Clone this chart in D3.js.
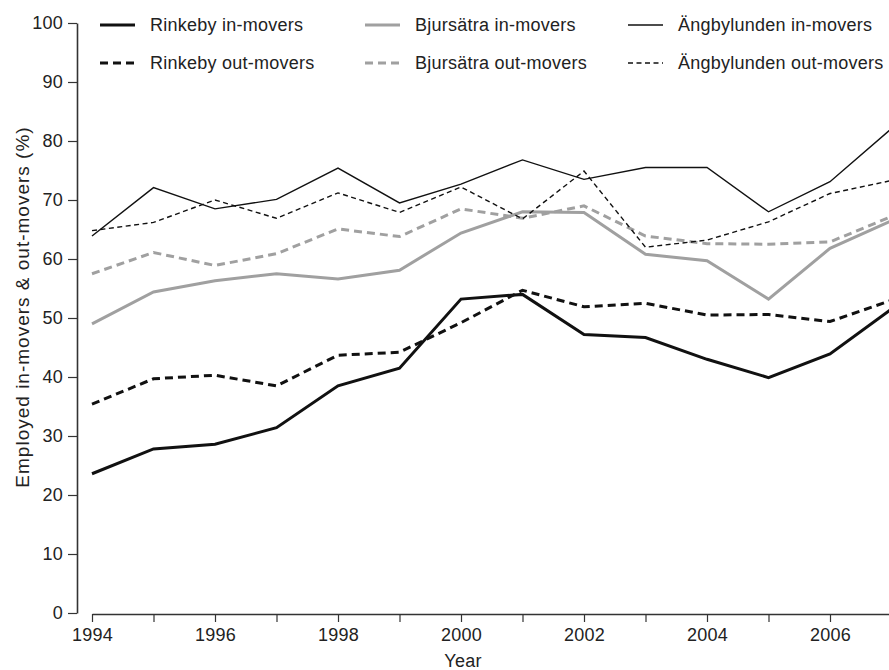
<!DOCTYPE html>
<html>
<head>
<meta charset="utf-8">
<script src="https://cdn.jsdelivr.net/npm/d3@7/dist/d3.min.js"></script>
<style>
  html, body { margin: 0; padding: 0; background: #fff; }
  svg { display: block; font-family: "Liberation Sans", Arial, Helvetica, sans-serif; }
</style>
</head>
<body>
<svg id="chart" width="889" height="670"></svg>
<script>
// Share of employed people among in-movers and out-movers, by neighbourhood
const years = [1994, 1995, 1996, 1997, 1998, 1999, 2000, 2001, 2002, 2003, 2004, 2005, 2006, 2007];
const yTicks = [0, 10, 20, 30, 40, 50, 60, 70, 80, 90, 100];

const rinkebyIn   = [23.6, 27.8, 28.6, 31.4, 38.5, 41.5, 53.2, 54.0, 47.2, 46.7, 43.0, 39.9, 43.9, 51.5];
const rinkebyOut  = [35.4, 39.7, 40.3, 38.5, 43.7, 44.2, 49.2, 54.7, 51.9, 52.5, 50.5, 50.6, 49.4, 53.0];
const bjursatraIn  = [49.0, 54.4, 56.3, 57.5, 56.6, 58.1, 64.4, 68.0, 67.9, 60.8, 59.7, 53.2, 61.8, 66.5];
const bjursatraOut = [57.5, 61.1, 58.9, 60.9, 65.1, 63.8, 68.5, 66.9, 69.0, 63.9, 62.6, 62.5, 62.9, 67.2];
const angbyIn  = [63.9, 72.1, 68.5, 70.1, 75.4, 69.5, 72.7, 76.8, 73.5, 75.5, 75.5, 68.0, 73.1, 82.1];
const angbyOut = [64.8, 66.2, 70.0, 66.9, 71.2, 67.9, 72.2, 66.8, 74.9, 62.0, 63.2, 66.3, 71.1, 73.3];

const series = [
  { name: "Rinkeby in-movers",       values: rinkebyIn,    color: "#111", width: 3,   dash: null },
  { name: "Bjursätra in-movers",     values: bjursatraIn,  color: "#a0a0a0", width: 3, dash: null },
  { name: "Ängbylunden in-movers",   values: angbyIn,      color: "#111", width: 1.4, dash: null },
  { name: "Rinkeby out-movers",      values: rinkebyOut,   color: "#111", width: 3,   dash: "8,5" },
  { name: "Bjursätra out-movers",    values: bjursatraOut, color: "#a0a0a0", width: 3, dash: "8,5" },
  { name: "Ängbylunden out-movers",  values: angbyOut,     color: "#111", width: 1.4, dash: "5,3.5" }
];

const svg = d3.select("#chart");
const axisColor = "#333";
const textColor = "#222";
const fontSize = "18px";
const spacing = "0.25px";

const x = d3.scaleLinear().domain([1994, 2007]).range([92, 891.5]);
const y = d3.scaleLinear().domain([0, 100]).range([613, 23]);

// y axis
const yAxis = svg.append("g")
  .attr("transform", "translate(77,0)")
  .call(d3.axisLeft(y).tickValues(yTicks).tickSize(9).tickSizeOuter(0).tickPadding(5));

// x axis: a tick every year, labels on even years
const xAxis = svg.append("g")
  .attr("transform", "translate(0,614)")
  .call(d3.axisBottom(x).tickValues(years).tickSize(8).tickSizeOuter(0).tickPadding(6)
    .tickFormat(d => d % 2 === 0 ? String(d) : ""));

[yAxis, xAxis].forEach(g => {
  g.select(".domain").attr("stroke", axisColor).attr("stroke-width", 1.6);
  g.selectAll(".tick line").attr("stroke", axisColor).attr("stroke-width", 1.2);
  g.selectAll(".tick text").attr("fill", textColor)
    .style("font-size", fontSize).style("letter-spacing", spacing)
    .style("font-family", "'Liberation Sans', Arial, sans-serif");
});

// lines
const line = d3.line()
  .x((d, i) => x(years[i]))
  .y(d => y(d));

series.forEach(s => {
  svg.append("path")
    .datum(s.values)
    .attr("fill", "none")
    .attr("stroke", s.color)
    .attr("stroke-width", s.width)
    .attr("stroke-dasharray", s.dash)
    .attr("stroke-linejoin", "miter")
    .attr("d", line);
});

// legend: two rows, three columns
const legendCols = [100, 365, 628];
const legendRows = [25, 63];
series.forEach((s, i) => {
  const cx = legendCols[i % 3];
  const cy = legendRows[Math.floor(i / 3)];
  const g = svg.append("g").attr("transform", `translate(${cx},${cy})`);
  g.append("line")
    .attr("x1", 0).attr("x2", 35).attr("y1", 0).attr("y2", 0)
    .attr("stroke", s.color)
    .attr("stroke-width", s.width)
    .attr("stroke-dasharray", s.dash);
  g.append("text")
    .attr("x", 50).attr("y", 0).attr("dy", "0.35em")
    .attr("fill", textColor)
    .style("font-size", fontSize)
    .style("letter-spacing", spacing)
    .text(s.name);
});

// axis titles
svg.append("text")
  .attr("x", 463).attr("y", 667)
  .attr("text-anchor", "middle")
  .attr("fill", textColor)
  .style("font-size", fontSize)
  .style("letter-spacing", spacing)
  .text("Year");

svg.append("text")
  .attr("transform", "translate(29,307) rotate(-90)")
  .attr("text-anchor", "middle")
  .attr("fill", textColor)
  .style("font-size", "19px")
  .style("letter-spacing", "1px")
  .text("Employed in-movers & out-movers (%)");
</script>
</body>
</html>
